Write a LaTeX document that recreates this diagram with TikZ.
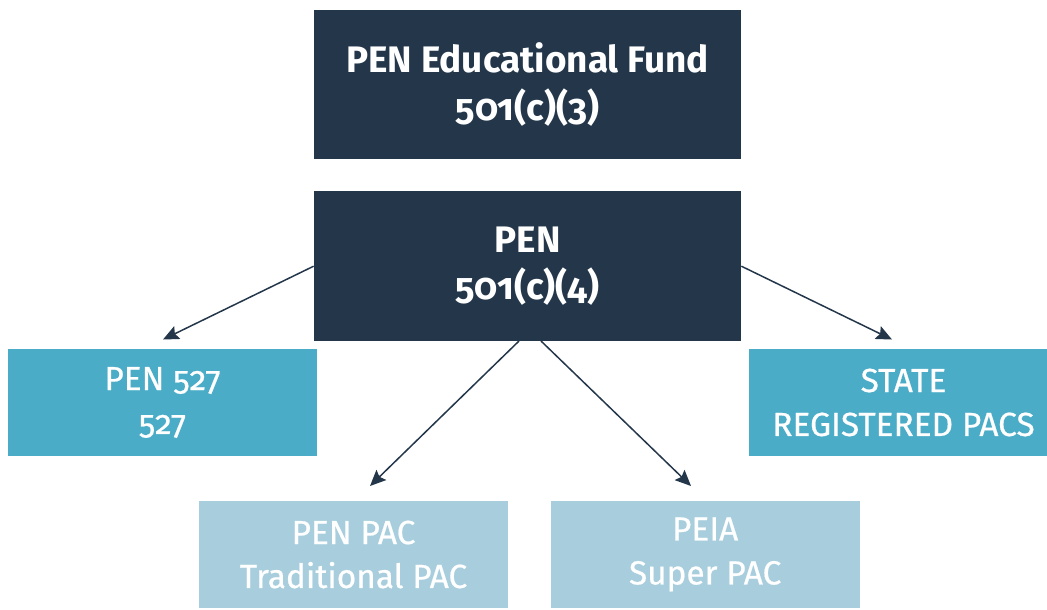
\documentclass[tikz,border=0pt]{standalone}
\usepackage{fontspec}
\setmainfont{Fira Sans}[Numbers=OldStyle]
\newfontfamily\medfont{Fira Sans}[Numbers=OldStyle,FakeBold=0.6]
\usetikzlibrary{positioning,arrows.meta}

\definecolor{navy}{RGB}{35,54,74}
\definecolor{teal}{RGB}{75,172,200}
\definecolor{pale}{RGB}{168,206,221}

\begin{document}
\begin{tikzpicture}[x=0.02cm,y=-0.02cm,
  box/.style={minimum width=8.54cm,minimum height=2.99cm,inner sep=0pt,align=center,
    text=white,font=\fontsize{21}{27}\selectfont\bfseries},
  sub/.style={minimum width=6.18cm,minimum height=2.14cm,inner sep=0pt,align=center,
    text=white,font=\fontsize{19}{25}\selectfont\medfont},
  link/.style={-{Stealth[length=9pt,width=8pt,inset=1.5pt]},line width=0.85pt,navy}]
 \useasboundingbox (0,0) rectangle (1047,609);

 %Top boxes
 \node (fund) [box,fill=navy] at (527.5,84.5) {PEN Educational Fund\\501(c)(3)};
 \node (pen) [box,fill=navy,below=0.63cm of fund] {PEN\\501(c)(4)};

 %Second row
 \node (pen527) [sub,fill=teal] at (162.5,402.5) {PEN 527\\527};
 \node (state) [sub,fill=teal] at (903.5,402.5) {STATE\\REGISTERED PACS};

 %Bottom row
 \node (penpac) [sub,fill=pale] at (353.5,554.5) {PEN PAC\\Traditional PAC};
 \node (peia) [sub,fill=pale,right=0.84cm of penpac] {PEIA\\Super PAC};

 %Coordinates
 \coordinate (pen-sl) at (519,341);
 \coordinate (pen-sr) at (541,341);
 \coordinate (tip527) at (163,339.5);
 \coordinate (tipstate) at (892,339.5);
 \coordinate (tippac) at (370,486);
 \coordinate (tippeia) at (691,486);

 %Arrows
 \draw[link] (pen.west) -- (tip527);
 \draw[link] (pen.east) -- (tipstate);
 \draw[link] (pen-sl) -- (tippac);
 \draw[link] (pen-sr) -- (tippeia);

\end{tikzpicture}
\end{document}
